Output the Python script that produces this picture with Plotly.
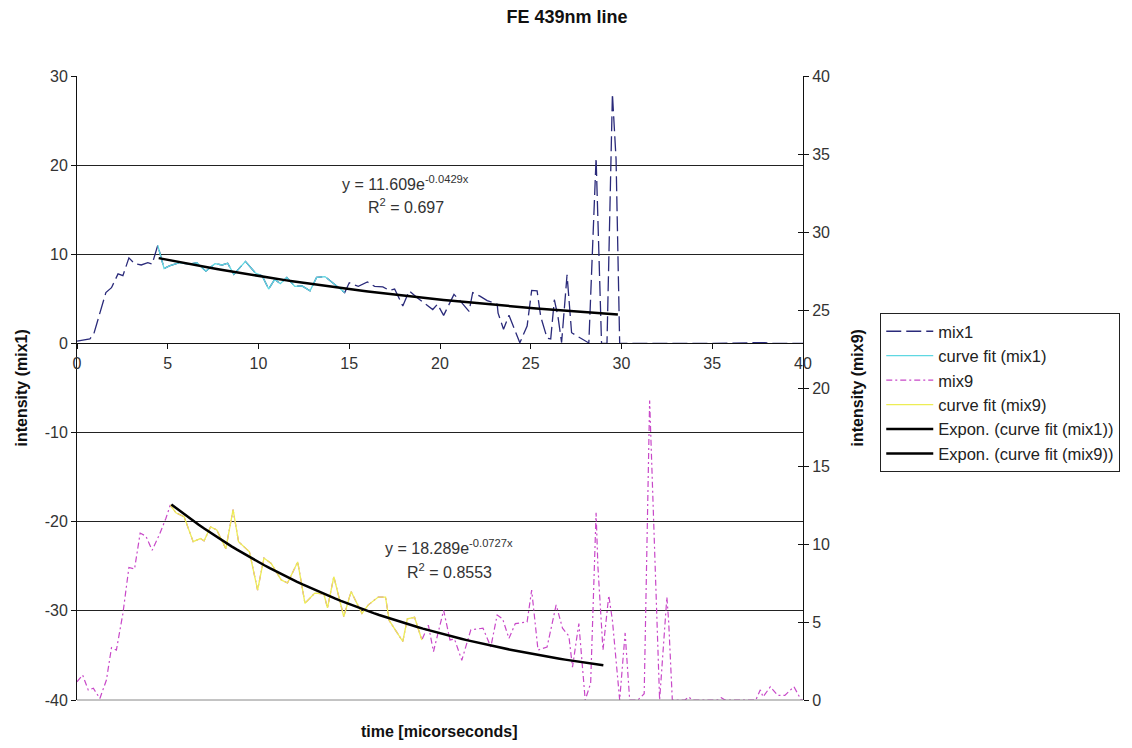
import numpy as np
import plotly.graph_objects as go

# ---------------- data ----------------
mix1_t = [0, 0.53, 0.71, 0.93, 1.04, 1.35, 1.59, 1.9, 2.26, 2.53, 2.86, 3.17, 3.54, 3.9, 4.14,
          4.45, 4.8, 5.09, 5.63, 6.2, 6.6, 7.1, 7.6, 8.0, 8.3, 8.64, 9.28, 9.83, 10.2, 10.56,
          10.9, 11.2, 11.56, 12.0, 12.4, 12.84, 13.2, 13.66, 14.2, 14.75, 15.0, 15.5, 16.0,
          16.4, 16.85, 17.2, 17.5, 17.95, 18.3, 18.76, 19.6, 19.86, 20.2, 20.77, 21.1, 21.6,
          21.8, 22.2, 22.6, 23.15, 23.2, 23.5, 23.8, 24.4, 24.8, 25.05, 25.35, 25.55, 25.9,
          26.1, 26.3, 26.5, 26.7, 27.0, 27.25, 28.2, 28.6, 28.9, 29.2, 29.5, 29.7, 29.9,
          31.0, 35.0, 37.9, 38.3, 40.0]
mix1_v = [0.26, 0.45, 0.5, 1.1, 1.9, 4.2, 5.7, 6.25, 7.8, 7.6, 9.6, 8.95, 8.8, 9.05, 8.9,
          11.0, 8.4, 8.7, 9.05, 8.9, 9.05, 8.1, 8.95, 8.8, 9.0, 7.75, 9.2, 7.9, 7.6, 6.1,
          7.2, 6.7, 7.4, 6.4, 6.45, 5.9, 7.4, 7.5, 6.6, 5.7, 6.8, 6.4, 6.9,
          6.4, 6.35, 5.95, 6.1, 4.2, 5.9, 5.1, 3.8, 4.4, 3.15, 5.5, 4.8, 3.6,
          5.7, 5.3, 4.8, 4.4, 3.4, 1.6, 3.15, 0.08, 1.95, 5.95, 5.9, 3.0, 0.6,
          0.5, 4.9, 3.0, 0.1, 7.7, 1.2, 0.05, 20.8, 0.0, 0.0, 28.0, 20.7, 0.0,
          0.0, 0.0, 0.1, 0.0, 0.0]

mix9_t = [0, 0.31, 0.62, 0.9, 1.26, 1.62, 1.9, 2.17, 2.53, 2.86, 3.17, 3.48, 3.8, 4.14, 4.54,
          4.9, 5.14, 5.45, 5.9, 6.4, 6.8, 7.0, 7.36, 7.7, 8.2, 8.6, 8.9, 9.5, 9.95, 10.3,
          10.7, 11.25, 11.6, 12.16, 12.56, 13.1, 13.6, 13.8, 14.15, 14.7, 15.1, 15.7, 16.05,
          16.6, 17.0, 17.2, 17.95, 18.2, 18.6, 19.0, 19.36, 19.64, 20.2, 20.55, 20.8, 21.2,
          21.7, 22.37, 22.8, 23.15, 23.45, 23.8, 24.15, 24.8, 25.05, 25.4, 25.9, 26.4, 26.75,
          27.1, 27.3, 27.65, 28.0, 28.3, 28.6, 28.7, 28.98, 29.3, 29.5, 29.9, 30.2, 30.45,
          30.9, 31.25, 31.55, 31.8, 31.95, 32.1, 32.5, 32.6, 32.8, 33.5, 33.7, 33.9, 35.3,
          35.5, 35.7, 37.4, 37.65, 37.8, 38.2, 38.6, 39.0, 39.5, 39.9, 40.0]
mix9_v = [1.17, 1.6, 0.64, 0.75, 0.1, 1.28, 3.35, 3.2, 5.55, 8.5, 8.4, 10.7, 10.5, 9.6, 10.6,
          11.65, 12.5, 12.0, 11.75, 10.15, 10.35, 10.2, 11.1, 10.9, 9.7, 12.2, 10.15, 9.5, 7.05, 9.1,
          8.75, 7.7, 7.5, 8.85, 6.2, 6.85, 6.8, 5.9, 7.9, 5.35, 6.95, 5.55, 6.1,
          6.6, 6.6, 5.1, 3.75, 5.2, 5.3, 3.85, 4.8, 3.1, 5.75, 3.85, 3.9, 2.55,
          4.5, 4.6, 3.4, 5.45, 5.2, 3.95, 4.9, 5.0, 7.05, 3.2, 3.4, 6.1, 4.6,
          4.1, 2.1, 4.9, 0.0, 1.07, 12.0, 8.55, 3.2, 6.7, 5.1, 0.0, 4.3, 0.0,
          0.0, 0.4, 19.2, 10.3, 5.4, 0.0, 6.6, 5.0, 0.0, 0.0, 0.2, 0.0, 0.0,
          0.15, 0.0, 0.0, 0.65, 0.2, 0.85, 0.3, 0.3, 0.85, 0.0, 0.0]

fit1_range = (4.45, 14.75)   # points used for "curve fit (mix1)"
fit9_range = (5.14, 19.0)    # points used for "curve fit (mix9)"

# exponential trendlines shown on the chart: y = a * exp(b x)
exp1_a, exp1_b, exp1_r2 = 11.609, -0.0429, 0.697
exp9_a, exp9_b, exp9_r2 = 18.289, -0.0727, 0.8553
exp1_span = (4.5, 29.8)
exp9_span = (5.2, 29.0)

left_ticks = [-40, -30, -20, -10, 0, 10, 20, 30]
left_ticktext = ["-40", "-30", "-20", "-10", "0", "10", "20", "30"]

FONT = "Arial, Liberation Sans, sans-serif"
FS = 16

# plot-area geometry in pixels
PL, PR, PT, PB = 77, 810, 76, 700
PW, PH = PR - PL, PB - PT

cf1 = [(t, v) for t, v in zip(mix1_t, mix1_v) if fit1_range[0] <= t <= fit1_range[1]]
cf9 = [(t, v) for t, v in zip(mix9_t, mix9_v) if fit9_range[0] <= t <= fit9_range[1]]

e1x = np.linspace(exp1_span[0], exp1_span[1], 80)
e9x = np.linspace(exp9_span[0], exp9_span[1], 80)

fig = go.Figure()
fig.add_trace(go.Scatter(x=mix1_t, y=mix1_v, mode="lines", name="mix1",
                         line=dict(color="#2a2a7a", width=1.3, dash="15px,5px")))
fig.add_trace(go.Scatter(x=[p[0] for p in cf1], y=[p[1] for p in cf1], mode="lines",
                         name="curve fit (mix1)", line=dict(color="#5fd8e2", width=1.3)))
fig.add_trace(go.Scatter(x=mix9_t, y=mix9_v, mode="lines", name="mix9", yaxis="y2",
                         line=dict(color="#c848c8", width=1.2, dash="6px,3px,2px,3px")))
fig.add_trace(go.Scatter(x=[p[0] for p in cf9], y=[p[1] for p in cf9], mode="lines",
                         name="curve fit (mix9)", yaxis="y2",
                         line=dict(color="#eded55", width=1.3)))
fig.add_trace(go.Scatter(x=e1x, y=exp1_a * np.exp(exp1_b * e1x), mode="lines",
                         name="Expon. (curve fit (mix1))", line=dict(color="black", width=2.5)))
fig.add_trace(go.Scatter(x=e9x, y=exp9_a * np.exp(exp9_b * e9x), mode="lines", yaxis="y2",
                         name="Expon. (curve fit (mix9))", line=dict(color="black", width=2.5)))
# invisible trace on y3 to activate inner ticks of the right axis
fig.add_trace(go.Scatter(x=[0], y=[0], yaxis="y3", showlegend=False, hoverinfo="skip",
                         mode="lines", line=dict(width=0)))

tickfont = dict(family=FONT, size=FS, color="#333")

fig.update_layout(
    width=1132, height=748,
    margin=dict(l=PL, r=1132 - PR, t=PT, b=748 - PB),
    paper_bgcolor="white", plot_bgcolor="white",
    font=dict(family=FONT, size=FS, color="#222"),
    title=dict(text="<b>FE 439nm line</b>", x=567 / 1132, xref="container", xanchor="center",
               y=1 - 17 / 748, yanchor="middle", font=dict(family=FONT, size=18, color="#111")),
    xaxis=dict(range=[0, 40], dtick=5, tick0=0, anchor="free", position=4 / 7,
               showline=True, linecolor="#111", linewidth=1, ticks="outside", ticklen=5,
               tickcolor="#111", showgrid=False, zeroline=False, tickfont=tickfont),
    yaxis=dict(range=[-40, 30], tickvals=left_ticks, ticktext=left_ticktext,
               showline=True, linecolor="#111", linewidth=1,
               ticks="outside", ticklen=5, tickcolor="#111", showgrid=True,
               gridcolor="#222", gridwidth=1, zeroline=False, tickfont=tickfont),
    yaxis2=dict(range=[0, 40], dtick=5, overlaying="y", side="right", showline=True,
                linecolor="#111", linewidth=1, ticks="outside", ticklen=5, tickcolor="#111",
                showgrid=False, zeroline=False, tickfont=tickfont),
    yaxis3=dict(range=[0, 40], dtick=5, overlaying="y", side="right", showline=False,
                ticks="inside", ticklen=5, tickcolor="#111", showticklabels=False,
                showgrid=False, zeroline=False),
    legend=dict(x=(888 - PL) / PW, y=(PB - 313) / PH, xanchor="left", yanchor="top",
                bordercolor="#222", borderwidth=1, bgcolor="white", itemwidth=47,
                font=dict(family=FONT, size=16.5, color="#222"), traceorder="normal"),
    showlegend=True,
)

fig.add_shape(type="line", xref="paper", yref="paper", x0=0, x1=1, y0=0, y1=0,
              line=dict(color="#888", width=1))

ann = [
    dict(text="y = 11.609e<sup>-0.0429x</sup>", x=18.1, y=(344 - 184) / 8.914, xref="x", yref="y"),
    dict(text="R<sup>2</sup> = 0.697", x=18.1, y=(344 - 207) / 8.914, xref="x", yref="y"),
    dict(text="y = 18.289e<sup>-0.0727x</sup>", x=20.5, y=(344 - 548) / 8.914, xref="x", yref="y"),
    dict(text="R<sup>2</sup> = 0.8553", x=20.5, y=(344 - 572) / 8.914, xref="x", yref="y"),
]
for a in ann:
    fig.add_annotation(showarrow=False, font=dict(family=FONT, size=FS, color="#333"), **a)

fig.add_annotation(text="<b>time [micorseconds]</b>", xref="paper", yref="paper",
                   x=(442 - PL) / PW, y=(PB - 731) / PH, showarrow=False, yanchor="middle",
                   font=dict(family=FONT, size=FS, color="#111"))
fig.add_annotation(text="<b>intensity (mix1)</b>", xref="paper", yref="paper",
                   x=(20 - PL) / PW, y=0.5, textangle=-90, showarrow=False,
                   xanchor="center", font=dict(family=FONT, size=FS, color="#111"))
fig.add_annotation(text="<b>intensity (mix9)</b>", xref="paper", yref="paper",
                   x=(865 - PL) / PW, y=0.5, textangle=-90, showarrow=False,
                   xanchor="center", font=dict(family=FONT, size=FS, color="#111"))

fig.write_html("out.html")
